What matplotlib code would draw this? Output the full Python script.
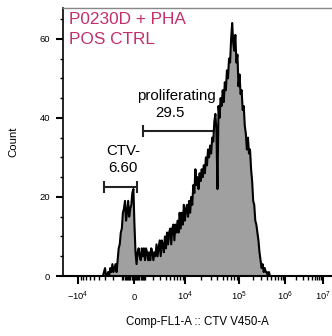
import numpy as np
import matplotlib.pyplot as plt
from matplotlib.ticker import FixedLocator, MultipleLocator

plt.rcParams['font.family'] = ['Liberation Sans', 'DejaVu Sans']
plt.rcParams['mathtext.fontset'] = 'custom'
plt.rcParams['mathtext.rm'] = 'Liberation Sans'
plt.rcParams['mathtext.it'] = 'Liberation Sans:italic'
plt.rcParams['mathtext.bf'] = 'Liberation Sans:bold'

# histogram: counts per display channel (256 channels across the x axis)
first_channel = 38
counts = [0, 1, 2, 0, 0, 1, 0, 2, 1, 3, 1, 2, 3, 1, 4, 7, 8, 11, 12, 16,
          17, 19, 14, 16, 19, 15, 17, 18, 21, 22, 13, 6, 3, 6, 7, 5, 4, 7, 5, 7,
          4, 7, 6, 4, 6, 4, 7, 6, 4, 6, 5, 8, 5, 7, 9, 5, 9, 8, 6, 10,
          7, 11, 8, 11, 12, 8, 12, 13, 9, 13, 11, 14, 11, 16, 12, 16, 13, 18, 14, 17,
          18, 15, 19, 16, 20, 18, 23, 21, 27, 23, 25, 22, 26, 24, 27, 25, 28, 26, 30, 28,
          32, 30, 33, 31, 35, 34, 39, 41, 37, 22, 43, 40, 45, 43, 47, 44, 49, 47, 52, 50,
          55, 54, 60, 64, 59, 57, 61, 54, 56, 48, 51, 46, 47, 42, 43, 38, 36, 32, 35, 31,
          32, 27, 24, 19, 18, 14, 13, 11, 9, 6, 4, 2, 3, 1, 2, 1, 1, 0, 1, 0]

# gates on CTV V450-A and their frequencies
ctv_neg_gate = [-3200, 270]
ctv_neg_level = 22.5
ctv_neg_pct = '6.60'
prolif_gate = [830, 8e4]
prolif_level = 36.7
prolif_pct = '29.5'

# biexponential-like display
W = 2000
decades = [-1e4, 0, 1e4, 1e5, 1e6, 1e7]
decade_labels = ['$-10^{4}$', '0', '$10^{4}$', '$10^{5}$', '$10^{6}$', '$10^{7}$']
decade_ch = [14.3, 67.6, 116.1, 167.5, 211.3, 247.4]

U = np.arcsinh(np.array(decades) / W)
C = np.array(decade_ch)
sl = (C[1] - C[0]) / (U[1] - U[0])
sr = (C[-1] - C[-2]) / (U[-1] - U[-2])


def forward(x):
    u = np.arcsinh(np.asarray(x, float) / W)
    c = np.interp(u, U, C)
    c = np.where(u < U[0], C[0] + (u - U[0]) * sl, c)
    c = np.where(u > U[-1], C[-1] + (u - U[-1]) * sr, c)
    return c


def inverse(c):
    c = np.asarray(c, float)
    u = np.interp(c, C, U)
    u = np.where(c < C[0], U[0] + (c - C[0]) / sl, u)
    u = np.where(c > C[-1], U[-1] + (c - C[-1]) / sr, u)
    return W * np.sinh(u)


fig = plt.figure(figsize=(3.32, 3.36), dpi=100)
ax = fig.add_axes([63 / 332, 60 / 336, 269 / 332, 268 / 336])
ax.set_xscale('function', functions=(forward, inverse))

x = inverse(np.arange(first_channel, first_channel + len(counts)))
y = np.array(counts, float)

# gates under the histogram
for g, lev in [(ctv_neg_gate, ctv_neg_level), (prolif_gate, prolif_level)]:
    ax.hlines(lev, g[0], g[1], color='#222222', lw=1.5, zorder=1)
    ax.vlines(g, lev - 1.5, lev + 1.5, color='#222222', lw=1.5, zorder=1)

ax.fill_between(x, y, 0, color='#a0a0a0', lw=0, zorder=2)
ax.plot(x, y, color='black', lw=1.5, zorder=3)

ax.set_xlim(inverse(0), inverse(256))
ax.set_ylim(0, 67.8)

minor = ([-(m * 10 ** k) for k in (2, 3) for m in range(1, 10)]
         + [m * 10 ** k for k in (2, 3) for m in range(1, 10)]
         + [m * 10 ** k for k in (4, 5, 6) for m in range(2, 10)])
ax.set_xticks(decades)
ax.set_xticklabels(decade_labels, va='baseline')
ax.xaxis.set_minor_locator(FixedLocator(minor))
ax.set_yticks([0, 20, 40, 60])
ax.yaxis.set_minor_locator(MultipleLocator(5))

ax.tick_params(axis='x', which='major', length=5.8, width=1.5, pad=11.5, labelsize=6.7)
ax.tick_params(axis='x', which='minor', length=2.9, width=1)
ax.tick_params(axis='y', which='major', length=5, width=1.5, pad=4.3, labelsize=6.8)
ax.tick_params(axis='y', which='minor', length=2.2, width=1)

ax.spines['right'].set_visible(False)
ax.spines['top'].set_color('#888888')
ax.spines['top'].set_linewidth(1)
ax.spines['left'].set_linewidth(1.2)
ax.spines['bottom'].set_linewidth(1.5)

ax.set_xlabel('Comp-FL1-A :: CTV V450-A', fontsize=8.3)
ax.xaxis.set_label_coords(0.5, -0.149)
ax.set_ylabel('Count', fontsize=8.2)
ax.yaxis.set_label_coords(-0.167, 0.5)

pink = '#c2306e'
ax.text(0.022, 0.942, 'P0230D + PHA', transform=ax.transAxes, color=pink,
        fontsize=12.4, va='baseline', ha='left')
ax.text(0.022, 0.866, 'POS CTRL', transform=ax.transAxes, color=pink,
        fontsize=12.4, va='baseline', ha='left')

ax.text(0.223, 0.4515, 'CTV-', transform=ax.transAxes, fontsize=10.8,
        ha='center', va='baseline')
ax.text(0.221, 0.389, ctv_neg_pct, transform=ax.transAxes, fontsize=10.8,
        ha='center', va='baseline')
ax.text(0.420, 0.655, 'proliferating', transform=ax.transAxes, fontsize=10.8,
        ha='center', va='baseline')
ax.text(0.396, 0.593, prolif_pct, transform=ax.transAxes, fontsize=10.8,
        ha='center', va='baseline')

fig.savefig('out.png', dpi=100)
